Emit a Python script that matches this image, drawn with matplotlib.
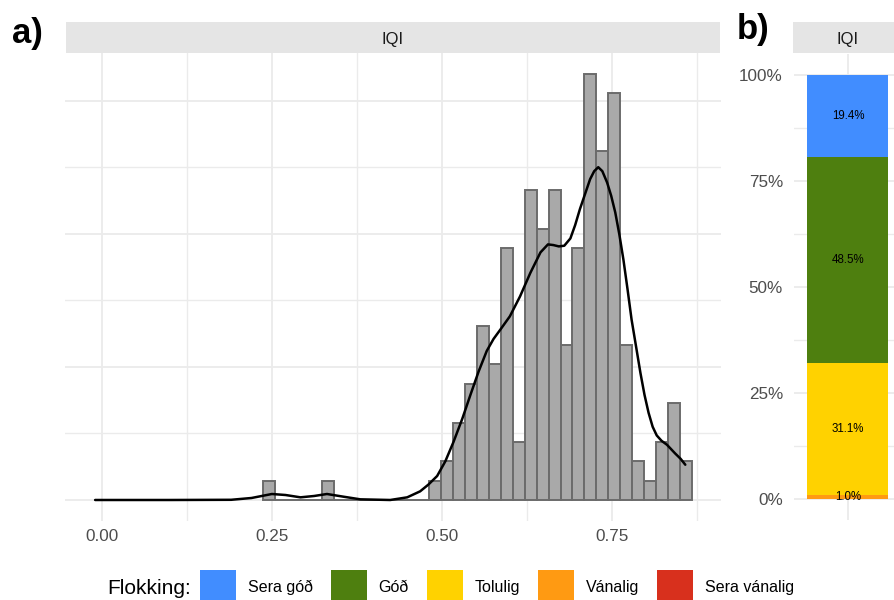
"""
IQI distribution: histogram with a density line (a) and the share of
each Flokking class as one stacked 100 % bar (b).
"""

import matplotlib.pyplot as plt
import numpy as np
from matplotlib.patches import Patch

plt.rcParams["font.family"] = ["Liberation Sans", "DejaVu Sans"]

W, H = 895, 600

# histogram of IQI values (counts per bin)
bin_start = 0.2363
bin_width = 0.01753
counts = [1, 0, 0, 0, 0, 1, 0, 0, 0, 0, 0, 0, 0, 0,
          1, 2, 4, 6, 9, 7, 13, 3, 16, 14, 16, 8, 13, 22, 18, 21, 8, 2, 1, 3, 5, 2]

dens_x = [-0.010, 0.100, 0.190, 0.220, 0.250, 0.270, 0.292, 0.312, 0.331, 0.355,
          0.380, 0.424, 0.449, 0.468, 0.480, 0.493, 0.505, 0.517, 0.530, 0.542,
          0.554, 0.566, 0.576, 0.586, 0.600, 0.615, 0.630, 0.645, 0.656, 0.664,
          0.672, 0.680, 0.689, 0.696, 0.703, 0.711, 0.718, 0.724, 0.730, 0.736,
          0.743, 0.749, 0.755, 0.761, 0.767, 0.773, 0.779, 0.786, 0.792, 0.798,
          0.804, 0.810, 0.816, 0.823, 0.831, 0.843, 0.851, 0.858]
dens_y = [0.0, 0.0, 0.003, 0.03, 0.09, 0.075, 0.04, 0.06, 0.09, 0.05,
          0.01, 0.0, 0.04, 0.13, 0.23, 0.36, 0.58, 0.87, 1.22, 1.58,
          1.93, 2.24, 2.42, 2.56, 2.76, 3.06, 3.41, 3.72, 3.84, 3.83,
          3.81, 3.82, 3.93, 4.13, 4.37, 4.61, 4.82, 4.94, 5.0, 4.94,
          4.77, 4.57, 4.32, 3.99, 3.61, 3.17, 2.71, 2.28, 1.91, 1.58,
          1.31, 1.10, 0.97, 0.89, 0.83, 0.70, 0.62, 0.53]

# Flokking classes, legend order, and their share in percent
classes = ["Sera góð", "Góð", "Tolulig", "Vánalig", "Sera vánalig"]
shares = [19.4, 48.5, 31.1, 1.0, 0.0]
class_colors = ["#418DFF", "#4E7F0F", "#FFD200", "#FF9A12", "#D8301D"]

GRID = "#EBEBEB"
STRIP = "#E5E5E5"
TICK = "#4D4D4D"


def px_box(x0, y0, x1, y1):
    """pixel box (top-left origin) -> figure fraction rect"""
    return [x0 / W, 1 - y1 / H, (x1 - x0) / W, (y1 - y0) / H]


def strip(fig, x0, x1, text):
    sa = fig.add_axes(px_box(x0, 21.7, x1, 53.3))
    sa.set_facecolor(STRIP)
    sa.set_xticks([])
    sa.set_yticks([])
    for sp in sa.spines.values():
        sp.set_visible(False)
    sa.text(0.5, 0.44, text, ha="center", va="center", fontsize=12,
            color="#1A1A1A", transform=sa.transAxes)


def clean(ax):
    for sp in ax.spines.values():
        sp.set_visible(False)
    ax.tick_params(which="both", length=0)
    ax.set_axisbelow(True)


fig = plt.figure(figsize=(W / 100, H / 100), dpi=100)

# ---- a) histogram + density ----
ax = fig.add_axes(px_box(65.3, 52.5, 721.5, 521.3))
clean(ax)
counts = np.array(counts, dtype=float)
n_bins = len(counts)
edges = bin_start + bin_width * np.arange(n_bins + 1)
centers = 0.5 * (edges[:-1] + edges[1:])
density = counts / (counts.sum() * bin_width)

ax.bar(centers, density, width=bin_width, color="#A9A9A9",
       edgecolor="#6B6B6B", linewidth=1.4, zorder=2)
ax.plot(dens_x, dens_y, color="black", lw=1.8, zorder=3,
        solid_joinstyle="round", solid_capstyle="round")

lo = min(dens_x[0], edges[0])
hi = max(edges[-1], dens_x[-1])
xpad = 0.05 * (hi - lo)
ax.set_xlim(lo - xpad, hi + xpad)
ymax = max(density.max(), max(dens_y))
ax.set_ylim(-0.05 * ymax, 1.05 * ymax)

ax.set_xticks([0.0, 0.25, 0.5, 0.75])
ax.set_xticklabels(["0.00", "0.25", "0.50", "0.75"])
ax.set_xticks([0.125, 0.375, 0.625, 0.875], minor=True)
ax.set_yticks([0, 2, 4, 6])
ax.set_yticks([1, 3, 5], minor=True)
ax.set_yticklabels([])
ax.tick_params(axis="x", labelsize=12.3, labelcolor=TICK, pad=5.6)
ax.grid(which="major", color=GRID, lw=1.3)
ax.grid(which="minor", color=GRID, lw=1.0)
strip(fig, 65.7, 720, "IQI")
fig.text(12 / W, 1 - 33 / H, "a)", fontsize=25, fontweight="bold",
         ha="left", va="center")

# ---- b) stacked share bar ----
bx = fig.add_axes(px_box(794, 53.8, 902, 520))
clean(bx)
bottom = 0.0
for name, val, col in reversed(list(zip(classes, shares, class_colors))):
    frac = val / 100
    bx.bar(1, frac, bottom=bottom, width=0.9, color=col, linewidth=0,
           zorder=2)
    if val > 0:
        bx.text(1, bottom + frac / 2, f"{val:.1f}%", ha="center", va="center",
                fontsize=8.3, color="black", zorder=3)
    bottom += frac
bx.set_xlim(0.4, 1.6)
bx.set_ylim(-0.05, 1.05)
bx.set_xticks([1])
bx.set_xticklabels([])
bx.set_yticks([0, 0.25, 0.5, 0.75, 1.0])
bx.set_yticklabels(["0%", "25%", "50%", "75%", "100%"])
bx.set_yticks([0.125, 0.375, 0.625, 0.875], minor=True)
bx.tick_params(axis="y", labelsize=12.3, labelcolor=TICK, pad=8)
bx.grid(which="major", color=GRID, lw=1.3)
bx.grid(which="minor", axis="y", color=GRID, lw=1.0)
strip(fig, 793, 902, "IQI")
fig.text(737 / W, 1 - 29 / H, "b)", fontsize=25, fontweight="bold",
         ha="left", va="center")

# ---- legend ----
handles = [Patch(facecolor=c, edgecolor="none") for c in class_colors]
fig.text(107 / W, 1 - 589 / H, "Flokking:", fontsize=15, ha="left",
         va="center", color="black")
fig.legend(handles, classes, ncol=5, loc="upper left",
           bbox_to_anchor=(200 / W, 1 - 570 / H), frameon=False,
           fontsize=11.5, handlelength=2.25, handleheight=3.0,
           handletextpad=0.75, columnspacing=1.12, borderpad=0,
           borderaxespad=0)

fig.savefig("out.png", dpi=100)
